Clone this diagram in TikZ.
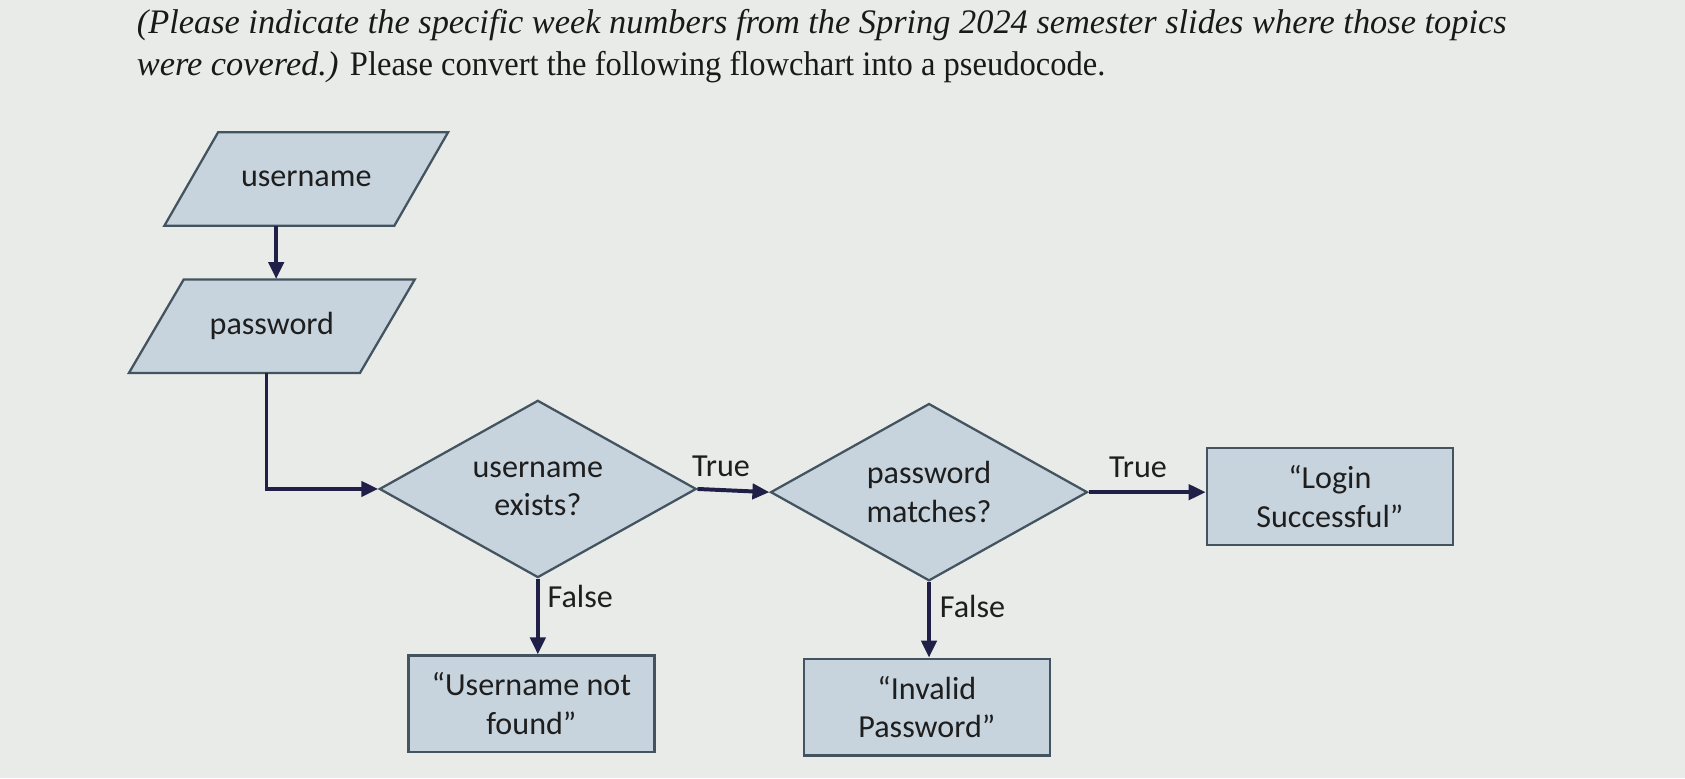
\documentclass[tikz,border=0pt]{standalone}
\usepackage{fontspec}
\setmainfont{Liberation Serif}
\newfontfamily\carlitofont{Carlito}
\usetikzlibrary{shapes.geometric,arrows.meta}
\definecolor{bg}{HTML}{E8EBE7}
\definecolor{shapefill}{HTML}{C7D4DD}
\definecolor{shapeline}{HTML}{43535F}
\definecolor{arrowc}{HTML}{1F1F48}
\definecolor{txt}{HTML}{1E1E1E}
\tikzset{
  every node/.style={text=txt},
  parashape/.style={draw=shapeline, fill=shapefill, line width=1.2pt, line join=miter},
  paratext/.style={rectangle, inner sep=0pt, minimum width=4.28cm, minimum height=1.74cm,
    font=\carlitofont\fontsize{17}{19}\selectfont},
  decision/.style={diamond, aspect=1.8, inner sep=0pt, draw=shapeline, fill=shapefill,
    line width=1.2pt, minimum width=5.9cm, minimum height=3.3cm, align=center,
    font=\carlitofont\fontsize{17}{20.5}\selectfont},
  outbox/.style={rectangle, draw=shapeline, fill=shapefill, line width=1.2pt,
    minimum width=4.58cm, minimum height=1.8cm, align=center,
    font=\carlitofont\fontsize{17}{20.5}\selectfont},
  arr/.style={draw=arrowc, line width=2.1pt, -{Triangle[length=9pt,width=8pt]}},
  lbl/.style={font=\carlitofont\fontsize{17}{19}\selectfont},
  titletext/.style={anchor=base west, inner sep=0pt, font=\fontsize{18.2}{22}\selectfont, text=black!90}
}
\begin{document}
\begin{tikzpicture}[x=0.02cm, y=-0.02cm]
\fill[bg] (0,0) rectangle (1568,724);
\useasboundingbox (0,0) rectangle (1568,724);

\node[titletext] (t1) at (127,31) {\itshape (Please indicate the specific week numbers from the Spring 2024 semester slides where those topics};
\node[titletext] (t2) at (127,70) {\itshape were covered.)\upshape{} \scalebox{0.947}[1]{Please convert the following flowchart into a pseudocode.}};

% input parallelograms
\filldraw[parashape] (203,123) -- (417,123) -- (367,210) -- (153,210) -- cycle;
\node[paratext] (user) at (285,166.5) {\raisebox{-3pt}{username}};
\filldraw[parashape] (171,260) -- (386,260) -- (335,347) -- (120,347) -- cycle;
\node[paratext] (pass) at (253,303.5) {\raisebox{-2pt}{password}};

\node[decision] (d1) at (500.5,455) {username\\exists?};
\node[decision] (d2) at (864.5,458) {password\\matches?};

\node[outbox] (login) at (1237.5,462) {“Login\\Successful”};
\node[outbox] (nf) at (494.5,655) {“Username not\\found”};
\node[outbox] (inv) at (862.5,658) {“Invalid\\Password”};

\draw[arr] (user.south -| 257,0) -- (pass.north -| 257,0);
\draw[arr] (pass.south -| 248,0) |- (d1.west);
\draw[arr] (d1.east) -- (d2.west);
\draw[arr] (d2.east) -- (d2.east -| login.west);
\draw[arr] (d1.south) -- (d1.south |- nf.north);
\draw[arr] (d2.south) -- (d2.south |- inv.north);

\node[lbl] (l1) at (671,434) {True};
\node[lbl] (l2) at (1059,435) {True};
\node[lbl] (l3) at (540,555) {False};
\node[lbl] (l4) at (905,564) {False};
\end{tikzpicture}
\end{document}
